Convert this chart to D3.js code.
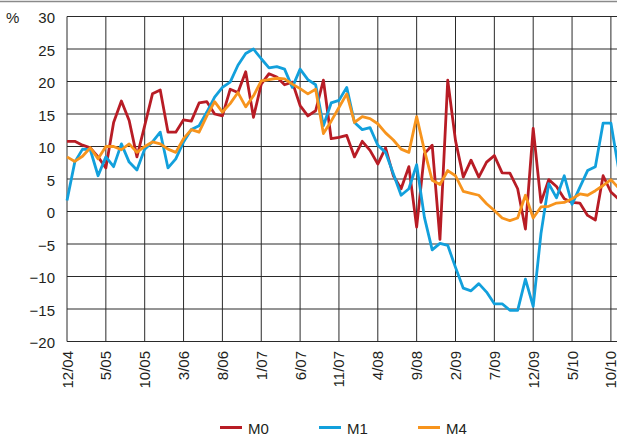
<!DOCTYPE html>
<html>
<head>
<meta charset="utf-8">
<script src="https://cdn.jsdelivr.net/npm/d3@7"></script>
<style>
  html, body { margin: 0; padding: 0; background: #fff; }
  svg { display: block; }
  text { font-family: "Liberation Sans", Arial, Helvetica, sans-serif; fill: #231f20; }
</style>
</head>
<body>
<svg id="chart" width="617" height="438"></svg>
<script>
// ---- data ----
const months = d3.timeMonth.range(new Date(2004, 11, 1), new Date(2010, 11, 1)); // 12/04 .. 11/10
const fmt = d => (d.getMonth() + 1) + "/" + String(d.getFullYear()).slice(2);
const categories = months.map(fmt);

const M0 = [10.8,10.8,10.2,9.8,8.4,6.7,13.7,17.0,14.0,8.4,
            13.2,18.1,18.7,12.2,12.2,14.1,13.9,16.7,16.9,15.0,
            14.7,18.8,18.3,21.5,14.5,19.6,21.2,20.7,19.5,19.9,
            16.3,14.7,15.5,20.2,11.2,11.4,11.7,8.4,10.8,9.4,
            7.3,9.8,5.5,3.5,6.9,-2.4,8.9,10.2,-4.3,20.2,
            10.9,5.3,7.9,5.3,7.6,8.6,5.95,5.9,3.5,-2.7,
            12.8,1.4,4.9,3.85,1.95,1.4,1.3,-0.6,-1.3,5.5,
            3.0,1.9];
const M1 = [1.7,7.6,9.6,9.5,5.5,8.4,6.9,10.4,7.6,6.4,
            9.6,10.7,12.2,6.7,8.1,10.7,12.6,13.2,15.3,17.6,
            19.1,19.9,22.5,24.3,25.0,23.5,22.1,22.3,21.9,19.1,
            21.9,20.3,19.5,13.2,16.7,17.1,19.1,13.7,12.6,12.9,
            10.2,9.1,5.8,2.5,3.5,7.2,-0.9,-5.9,-4.9,-5.2,
            -8.6,-11.8,-12.2,-11.1,-12.4,-14.2,-14.2,-15.2,-15.2,-10.4,
            -14.6,-3.4,4.3,2.1,5.5,1.1,3.7,6.3,6.9,13.6,
            13.6,6.5];
const M4 = [8.4,7.7,8.5,9.8,8.1,10.0,10.0,9.5,10.4,9.1,
            10.0,10.7,10.4,9.6,9.1,11.2,12.6,12.2,14.7,16.9,
            15.3,16.6,18.3,16.1,17.8,20.1,20.3,20.5,20.4,19.6,
            18.9,18.1,18.8,12.0,13.9,16.0,18.1,13.7,14.6,14.3,
            13.5,12.1,11.0,9.6,9.1,14.6,9.4,4.8,4.15,6.3,
            5.5,3.1,2.8,2.5,1.2,0.15,-1.0,-1.4,-1.0,2.5,
            -1.0,0.7,0.8,1.3,1.4,1.95,2.7,2.5,3.2,4.0,
            4.9,3.6];
const xTickLabels = ["12/04","5/05","10/05","3/06","8/06","1/07","6/07","11/07","4/08","9/08","2/09","7/09","12/09","5/10","10/10"];
const yTicks = [30,25,20,15,10,5,0,-5,-10,-15,-20];

const series = [
  {name: "M0", values: M0, color: "#b81c25"},
  {name: "M1", values: M1, color: "#12a0dc"},
  {name: "M4", values: M4, color: "#f7941d"}
];

// ---- layout ----
const svg = d3.select("#chart");
const plotLeft = 67, plotTop = 16.5, plotBottom = 341.5;
const monthStep = 7.77;
const x = d3.scalePoint().domain(categories).range([plotLeft, plotLeft + monthStep * (categories.length - 1)]);
const y = d3.scaleLinear().domain([-20, 30]).range([plotBottom, plotTop]);
const rightEdge = 625;

// top rule
svg.append("line").attr("x1", 0).attr("x2", 617).attr("y1", 1.5).attr("y2", 1.5)
  .attr("stroke", "#8a8a8a").attr("stroke-width", 1.5);

// grid
const grid = svg.append("g");
grid.selectAll("line.h").data(yTicks).join("line")
  .attr("x1", plotLeft).attr("x2", rightEdge)
  .attr("y1", d => y(d)).attr("y2", d => y(d))
  .attr("stroke", "#2a2a2a").attr("stroke-width", 1);
grid.selectAll("line.v").data(xTickLabels).join("line")
  .attr("x1", d => x(d)).attr("x2", d => x(d))
  .attr("y1", plotTop).attr("y2", plotBottom)
  .attr("stroke", "#2a2a2a").attr("stroke-width", 1);

// y labels
svg.append("g").selectAll("text").data(yTicks).join("text")
  .attr("x", 55).attr("y", d => y(d) + 6.5)
  .attr("text-anchor", "end").attr("font-size", 15)
  .text(d => d < 0 ? "\u2212" + Math.abs(d) : d);
svg.append("text").attr("x", 6).attr("y", y(30) + 6.5).attr("font-size", 15).text("%");

// x labels
svg.append("g").selectAll("text").data(xTickLabels).join("text")
  .attr("transform", d => `translate(${x(d) + 5.5},351) rotate(-90)`)
  .attr("text-anchor", "end").attr("font-size", 15)
  .text(d => d);

// lines
const line = d3.line().x((d, i) => x(categories[i])).y(d => y(d));
svg.append("g").selectAll("path").data(series).join("path")
  .attr("d", d => line(d.values))
  .attr("fill", "none").attr("stroke", d => d.color)
  .attr("stroke-width", 2.8).attr("stroke-linejoin", "round");

// legend
const legX = [220, 319, 418];
const leg = svg.append("g").selectAll("g").data(series).join("g")
  .attr("transform", (d, i) => `translate(${legX[i]},427.5)`);
leg.append("line").attr("x1", 0).attr("x2", 22).attr("y1", 0).attr("y2", 0)
  .attr("stroke", d => d.color).attr("stroke-width", 3);
leg.append("text").attr("x", 28).attr("y", 6).attr("font-size", 15).text(d => d.name);
</script>
</body>
</html>
